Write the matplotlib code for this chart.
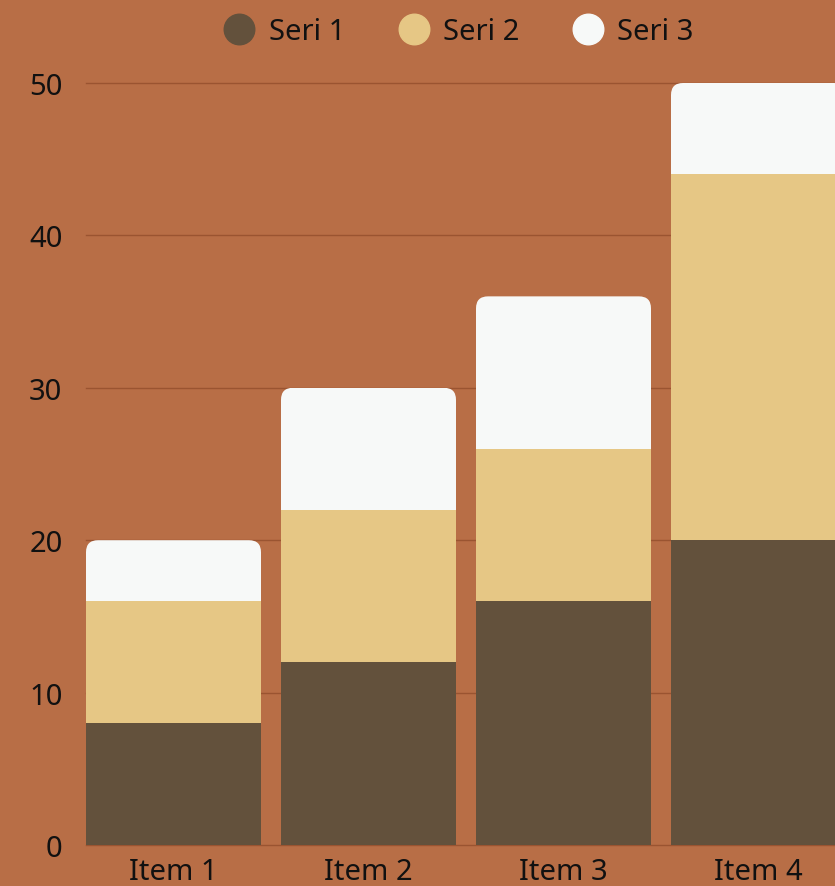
import numpy as np
import matplotlib
matplotlib.use('Agg')
import matplotlib.pyplot as plt
from matplotlib.patches import FancyBboxPatch
from matplotlib.lines import Line2D

plt.rcParams['font.family'] = ['Noto Sans', 'DejaVu Sans']

categories = ['Item 1', 'Item 2', 'Item 3', 'Item 4']
series_names = ['Seri 1', 'Seri 2', 'Seri 3']
seri1 = [8, 12, 16, 20]
seri2 = [8, 10, 10, 24]
seri3 = [4, 8, 10, 6]
y_ticks = [0, 10, 20, 30, 40, 50]

colors = ['#63513C', '#E6C785', '#F7F9F8']
bg = '#B86E46'
grid_color = '#9A5431'

W, H = 835, 887
fig = plt.figure(figsize=(W / 100, H / 100), dpi=100, facecolor=bg)

# plot area in pixels
left, right, top, bottom = 86, 835, 84, 846
ax = fig.add_axes([left / W, (H - bottom) / H, (right - left) / W, (bottom - top) / H])
ax.set_facecolor(bg)

band_px = 195.0
bar_w = 175.0 / band_px
x = np.arange(len(categories))
x0 = -bar_w / 2
ax.set_xlim(x0, x0 + (right - left) / band_px)
ax.set_ylim(0, 50)

for s in ax.spines.values():
    s.set_visible(False)

ax.set_yticks(y_ticks)
ax.yaxis.grid(True, color=grid_color, linewidth=1.0)
for gl in ax.yaxis.get_gridlines():
    gl.set_clip_on(False)
ax.set_axisbelow(True)
ax.tick_params(axis='y', length=0, pad=17, labelsize=21, labelcolor='#111111')
ax.set_xticks(x)
ax.set_xticklabels(categories)
ax.tick_params(axis='x', length=0, pad=9, labelsize=21, labelcolor='#111111')

data = [seri1, seri2, seri3]
totals = np.sum(data, axis=0)

# rounded top corners via clip patches
ppx = band_px
ppy = (bottom - top) / 50.0
radius_px = 12
clips = []
for i in range(len(categories)):
    clip = FancyBboxPatch((x[i] - bar_w / 2, -20), bar_w, totals[i] + 20,
                          boxstyle=f'round,pad=0,rounding_size={radius_px / ppx}',
                          mutation_aspect=ppx / ppy,
                          transform=ax.transData, facecolor='none', edgecolor='none')
    clips.append(clip)

base = np.zeros(len(categories))
for vals, col, name in zip(data, colors, series_names):
    bars = ax.bar(x, vals, bar_w, bottom=base, color=col, linewidth=0, label=name)
    for b, clip in zip(bars, clips):
        b.set_clip_path(clip)
    base = base + np.array(vals)

handles = [Line2D([0], [0], marker='o', linestyle='none', markersize=22,
                  markerfacecolor=c, markeredgecolor=c) for c in colors]
fig.legend(handles, series_names, loc='center', bbox_to_anchor=(459 / W, 1 - 33 / H),
           ncol=3, frameon=False, fontsize=21, handlelength=1.0, handletextpad=0.5,
           columnspacing=1.85, labelcolor='#111111')

fig.savefig('out.png', dpi=100, facecolor=bg)
